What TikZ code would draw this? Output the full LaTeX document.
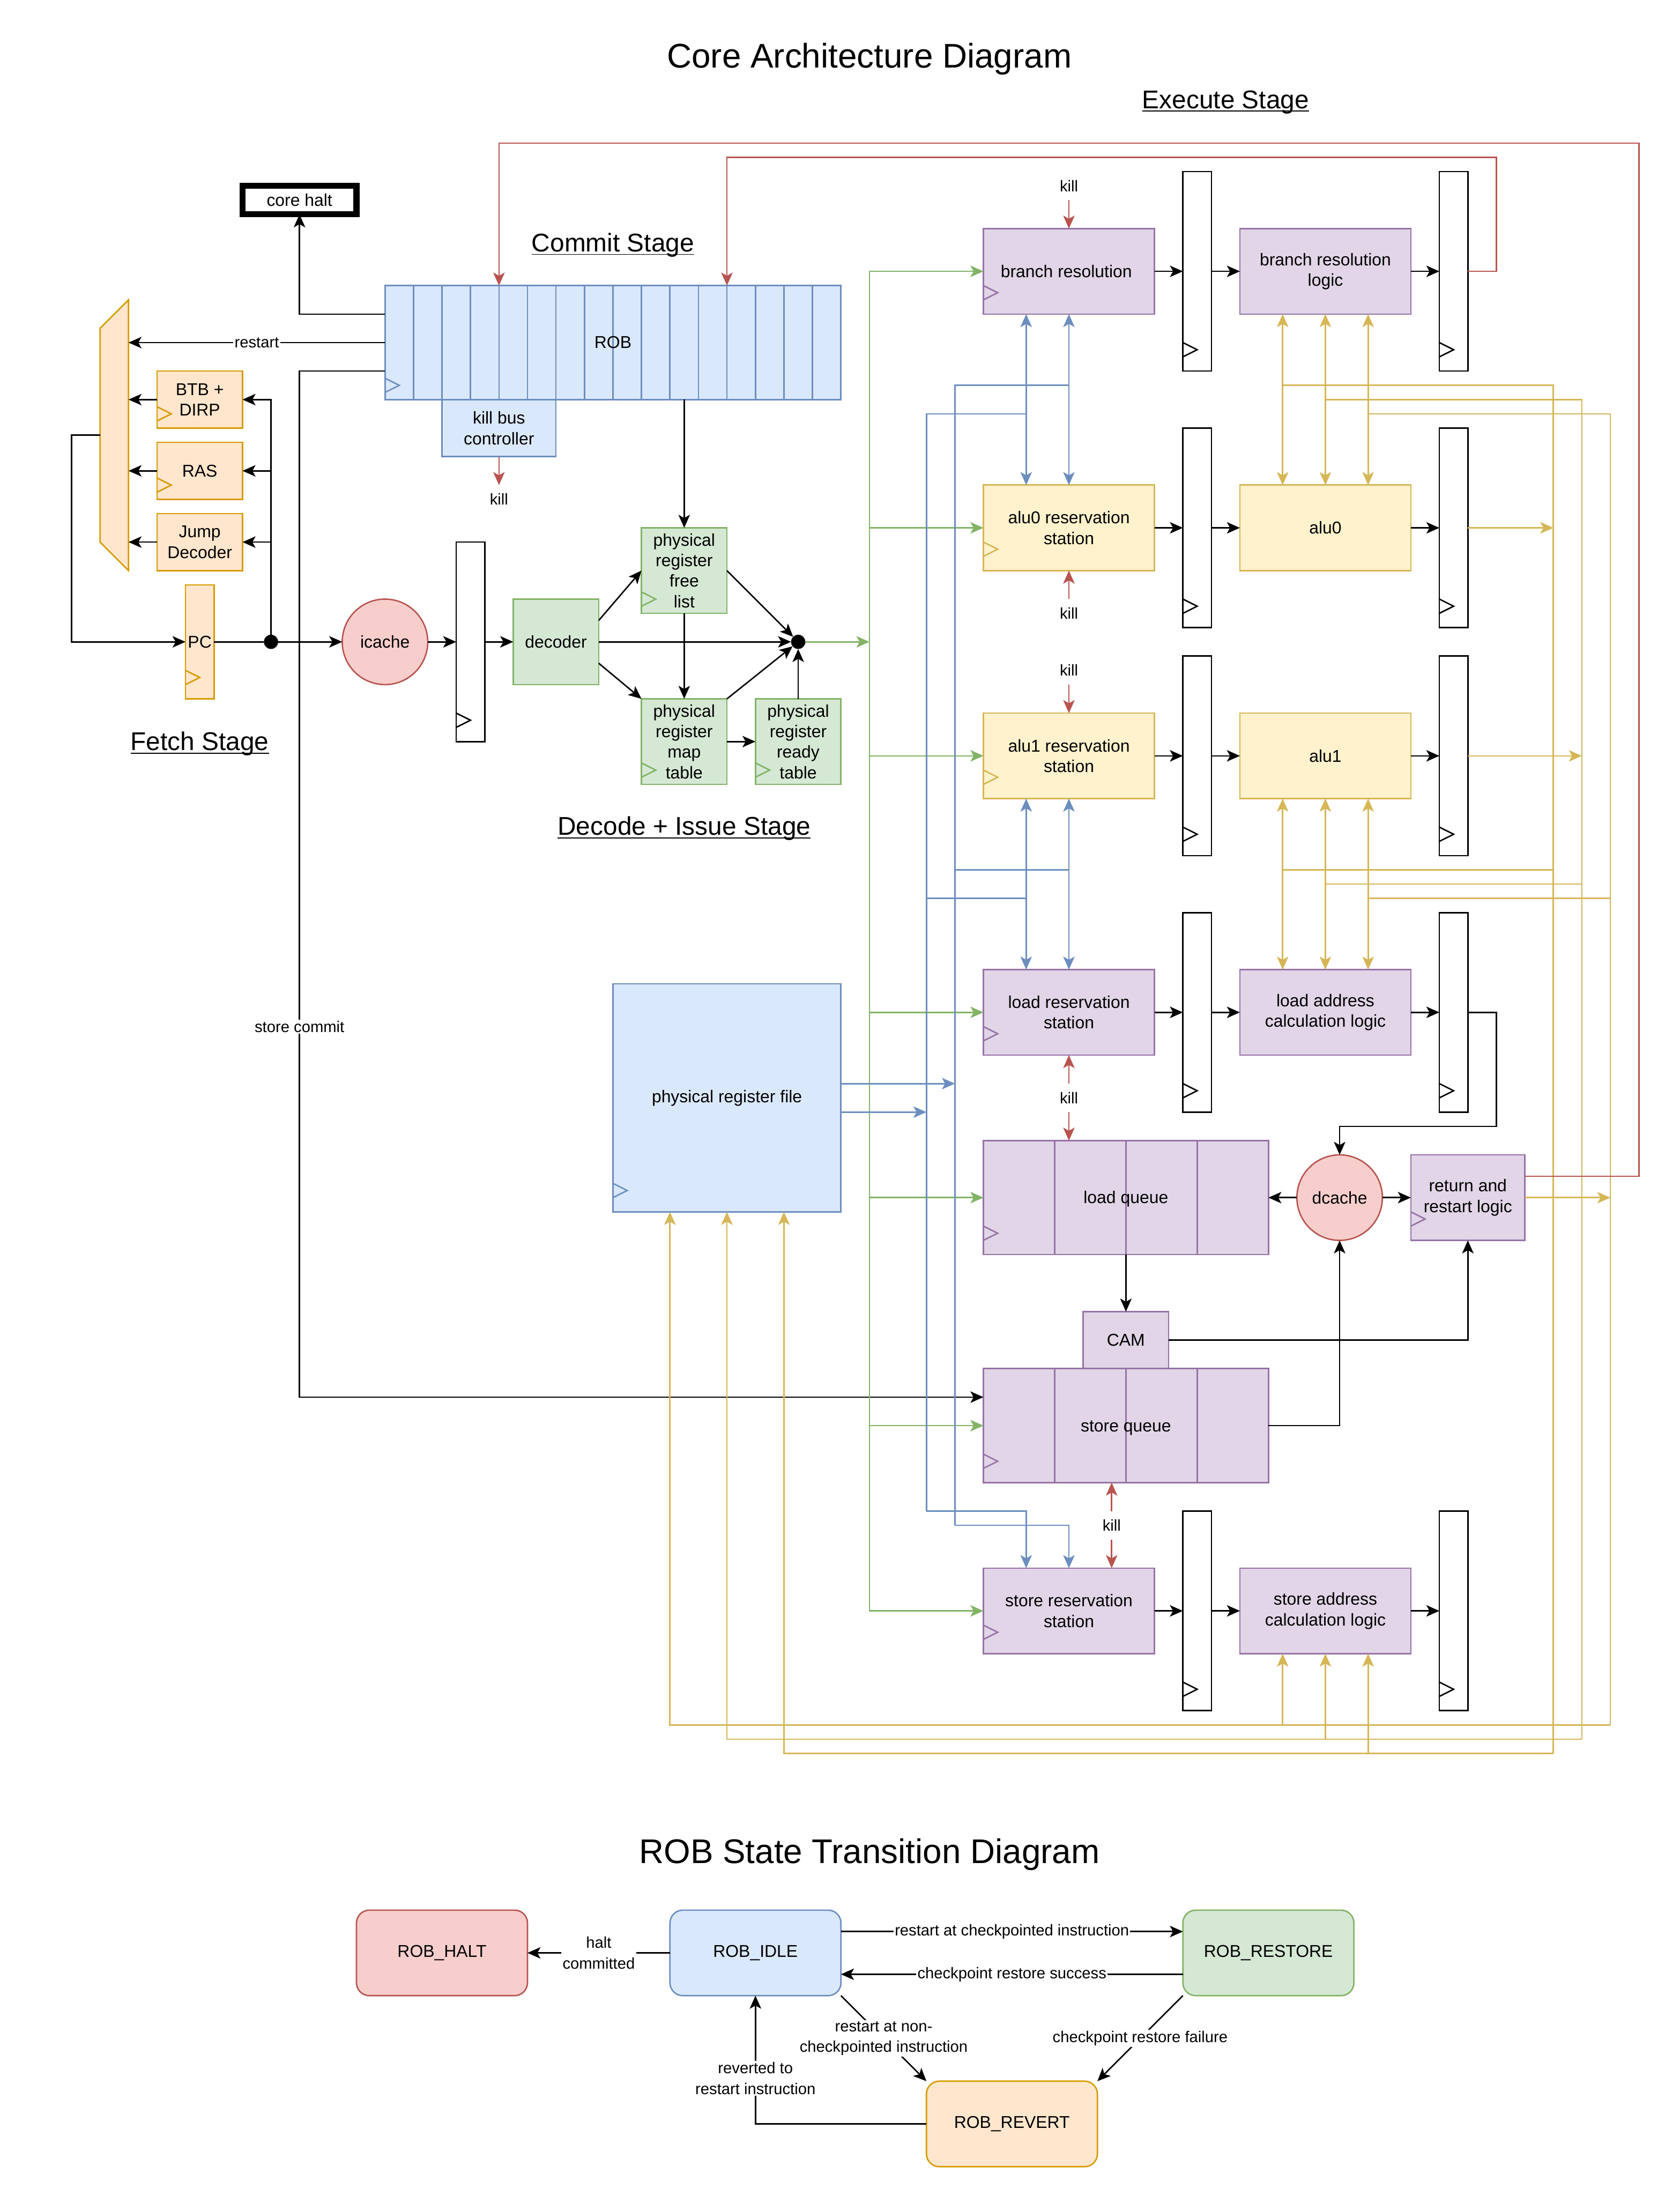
\documentclass[tikz,border=0pt]{standalone}
\usepackage{fontspec}
\setmainfont{Liberation Sans}
\usetikzlibrary{arrows.meta}
\definecolor{lblue}{HTML}{DAE8FC}
\definecolor{dblue}{HTML}{6C8EBF}
\definecolor{lgreen}{HTML}{D5E8D4}
\definecolor{dgreen}{HTML}{82B366}
\definecolor{lorange}{HTML}{FFE6CC}
\definecolor{dorange}{HTML}{D79B00}
\definecolor{lyellow}{HTML}{FFF2CC}
\definecolor{dyellow}{HTML}{D6B656}
\definecolor{lred}{HTML}{F8CECC}
\definecolor{dred}{HTML}{B85450}
\definecolor{lpurple}{HTML}{E1D5E7}
\definecolor{dpurple}{HTML}{9673A6}
\begin{document}
\begin{tikzpicture}[xscale=0.5,yscale=-0.5,line width=.71pt,
  >={Stealth[length=6.5pt,width=5.7pt,inset=1.6pt]},
  every node/.style={font=\fontsize{8.54}{10.25}\selectfont,inner sep=0,outer sep=0,align=center},
  bluebox/.style={draw=dblue,fill=lblue},
  greenbox/.style={draw=dgreen,fill=lgreen},
  orangebox/.style={draw=dorange,fill=lorange},
  yellowbox/.style={draw=dyellow,fill=lyellow},
  redbox/.style={draw=dred,fill=lred},
  purplebox/.style={draw=dpurple,fill=lpurple},
  rsbox/.style={minimum width=3cm,minimum height=1.5cm},
  tablebox/.style={minimum width=1.5cm,minimum height=1.5cm},
  predbox/.style={orangebox,minimum width=1.5cm,minimum height=1cm},
  pipe/.style={draw=black,fill=white,minimum width=.5cm,minimum height=3.5cm},
  statebox/.style={rounded corners=6.4pt,minimum width=3cm,minimum height=1.5cm},
  lab/.style={font=\fontsize{7.82}{10.25}\selectfont,fill=white,inner sep=.6pt},
  killlab/.style={lab,minimum height=.5cm,inner sep=0},
  bigtitle/.style={font=\fontsize{17.07}{20}\selectfont},
  stagetitle/.style={font=\fontsize{12.8}{15}\selectfont},
  jdot/.style={circle,fill=black,minimum size=.25cm},
  bluel/.style={draw=dblue},
  greenl/.style={draw=dgreen},
  yellowl/.style={draw=dyellow},
  redl/.style={draw=dred}]
\useasboundingbox (-13.51,-10.02) rectangle (45.44,67.03);

\node [bigtitle] (title) at (17,-7.95) {Core Architecture Diagram};
\node [stagetitle] (execst) at (29.5,-6.15) {\underline{\smash{Execute Stage}}};
\node [stagetitle] (commitst) at (8,-1.12) {\underline{\smash{Commit Stage}}};
\node [stagetitle] (fetchst) at (-6.5,16.38) {\underline{\smash{Fetch Stage}}};
\node [stagetitle] (decodest) at (10.5,19.35) {\underline{\smash{Decode + Issue Stage}}};
\node [bigtitle] (robtitle) at (17,55.05) {ROB State Transition Diagram};

\node [draw=black,line width=3pt,minimum width=2cm,minimum height=.5cm] (halt) at (-3,-3) {core halt};
\node [bluebox,minimum width=8cm,minimum height=2cm] (rob) at (8,2) {};
\draw [dblue] (1,0) -- (1,4);
\draw [dblue] (2,0) -- (2,4);
\draw [dblue] (3,0) -- (3,4);
\draw [dblue] (4,0) -- (4,4);
\draw [dblue] (5,0) -- (5,4);
\draw [dblue] (6,0) -- (6,4);
\draw [dblue] (7,0) -- (7,4);
\draw [dblue] (8,0) -- (8,4);
\draw [dblue] (9,0) -- (9,4);
\draw [dblue] (10,0) -- (10,4);
\draw [dblue] (11,0) -- (11,4);
\draw [dblue] (12,0) -- (12,4);
\draw [dblue] (13,0) -- (13,4);
\draw [dblue] (14,0) -- (14,4);
\draw [dblue] (15,0) -- (15,4);
\node (roblab) at (8,2) {ROB};
\node [bluebox,minimum width=2cm,minimum height=1cm] (kbc) at (4,5) {kill bus\\controller};

\draw [dorange,fill=lorange] (-9,.5) -- (-9,10) -- (-10,9) -- (-10,1.5) -- cycle;
\coordinate (muxr) at (-9,2);
\coordinate (muxb) at (-9,4);
\coordinate (muxs) at (-9,6.5);
\coordinate (muxj) at (-9,9);
\coordinate (muxo) at (-10,5.25);
\coordinate (fbk) at (-11,5.25);
\node [predbox] (btb) at (-6.5,4) {BTB +\\DIRP};
\node [predbox] (ras) at (-6.5,6.5) {RAS};
\node [predbox] (jmp) at (-6.5,9) {Jump\\Decoder};
\node [orangebox,minimum width=.5cm,minimum height=2cm] (pc) at (-6.5,12.5) {PC};
\node [jdot] (dotf) at (-4,12.5) {};
\node [redbox,circle,minimum size=1.5cm] (icache) at (0,12.5) {icache};
\node [pipe] (reg0) at (3,12.5) {};
\node [greenbox,tablebox] (dec) at (6,12.5) {decoder};
\node [greenbox,tablebox] (free) at (10.5,10) {physical\\register\\free\\list};
\node [greenbox,tablebox] (map) at (10.5,16) {physical\\register\\map\\table};
\node [greenbox,tablebox] (ready) at (14.5,16) {physical\\register\\ready\\table};
\node [jdot] (dotd) at (14.5,12.5) {};
\node [bluebox,minimum width=4cm,minimum height=4cm] (prf) at (12,28.5) {physical register file};

\node [purplebox,rsbox] (rsb) at (24,-.5) {branch resolution\hspace{.3em}};
\node [yellowbox,rsbox] (rsa) at (24,8.5) {alu0 reservation\\station};
\node [yellowbox,rsbox] (rsc) at (24,16.5) {alu1 reservation\\station};
\node [purplebox,rsbox] (rsl) at (24,25.5) {load reservation\\station};
\node [purplebox,rsbox] (rss) at (24,46.5) {store reservation\\station};
\node [purplebox,rsbox] (lgb) at (33,-.5) {branch resolution\\logic};
\node [yellowbox,rsbox] (lga) at (33,8.5) {alu0};
\node [yellowbox,rsbox] (lgc) at (33,16.5) {alu1};
\node [purplebox,rsbox] (lgl) at (33,25.5) {load address\\calculation logic};
\node [purplebox,rsbox] (lgs) at (33,46.5) {store address\\calculation logic};
\node [pipe] (pab) at (28.5,-.5) {};
\node [pipe] (paa) at (28.5,8.5) {};
\node [pipe] (pac) at (28.5,16.5) {};
\node [pipe] (pal) at (28.5,25.5) {};
\node [pipe] (pas) at (28.5,46.5) {};
\node [pipe] (pbb) at (37.5,-.5) {};
\node [pipe] (pba) at (37.5,8.5) {};
\node [pipe] (pbc) at (37.5,16.5) {};
\node [pipe] (pbl) at (37.5,25.5) {};
\node [pipe] (pbs) at (37.5,46.5) {};

\node [purplebox,minimum width=5cm,minimum height=2cm] (lq) at (26,32) {};
\draw [dpurple] (23.5,30) -- (23.5,34);
\draw [dpurple] (26,30) -- (26,34);
\draw [dpurple] (28.5,30) -- (28.5,34);
\node (lqlab) at (26,32.05) {load queue};
\node [purplebox,minimum width=5cm,minimum height=2cm] (sq) at (26,40) {};
\draw [dpurple] (23.5,38) -- (23.5,42);
\draw [dpurple] (26,38) -- (26,42);
\draw [dpurple] (28.5,38) -- (28.5,42);
\node (sqlab) at (26,40.08) {store queue};
\node [purplebox,minimum width=1.5cm,minimum height=1cm] (cam) at (26,37) {CAM};
\node [redbox,circle,minimum size=1.5cm] (dcache) at (33.5,32) {dcache};
\node [purplebox,minimum width=2cm,minimum height=1.5cm] (rr) at (38,32) {return and\\restart logic};

\draw [dpurple] (21,0) -- (21.5,.25) -- (21,.5);
\draw [dyellow] (21,9) -- (21.5,9.25) -- (21,9.5);
\draw [dyellow] (21,17) -- (21.5,17.25) -- (21,17.5);
\draw [dpurple] (21,26) -- (21.5,26.25) -- (21,26.5);
\draw [dpurple] (21,47) -- (21.5,47.25) -- (21,47.5);
\draw [dpurple] (21,33) -- (21.5,33.25) -- (21,33.5);
\draw [dpurple] (21,41) -- (21.5,41.25) -- (21,41.5);
\draw [dpurple] (36,32.5) -- (36.5,32.75) -- (36,33);
\draw (28,2) -- (28.5,2.25) -- (28,2.5);
\draw (28,11) -- (28.5,11.25) -- (28,11.5);
\draw (28,19) -- (28.5,19.25) -- (28,19.5);
\draw (28,28) -- (28.5,28.25) -- (28,28.5);
\draw (28,49) -- (28.5,49.25) -- (28,49.5);
\draw (37,2) -- (37.5,2.25) -- (37,2.5);
\draw (37,11) -- (37.5,11.25) -- (37,11.5);
\draw (37,19) -- (37.5,19.25) -- (37,19.5);
\draw (37,28) -- (37.5,28.25) -- (37,28.5);
\draw (37,49) -- (37.5,49.25) -- (37,49.5);
\draw (2.5,15) -- (3,15.25) -- (2.5,15.5);
\draw [dblue] (0,3.25) -- (.5,3.5) -- (0,3.75);
\draw [dblue] (8,31.5) -- (8.5,31.75) -- (8,32);
\draw [dorange] (-8,4.25) -- (-7.5,4.5) -- (-8,4.75);
\draw [dorange] (-8,6.75) -- (-7.5,7) -- (-8,7.25);
\draw [dorange] (-7,13.5) -- (-6.5,13.75) -- (-7,14);
\draw [dgreen] (9,10.75) -- (9.5,11) -- (9,11.25);
\draw [dgreen] (9,16.75) -- (9.5,17) -- (9,17.25);
\draw [dgreen] (13,16.75) -- (13.5,17) -- (13,17.25);

\draw [->] (rob.west |- 0,1) -| (halt.south);
\draw [->] (rob.west) -- node [lab] (lbrestart) {restart} (muxr);
\coordinate (cmt) at (-3,39);
\draw [->] (rob.west |- 0,3) -| (cmt) -- (sq.west |- cmt);
\node [lab] (lbcommit) at (-3,26) {store commit};
\draw [->] (btb.west) -- (muxb);
\draw [->] (ras.west) -- (muxs);
\draw [->] (jmp.west) -- (muxj);
\draw [->] (muxo) -- (fbk) |- (pc.west);
\draw (pc.east) -- (dotf);
\draw [->] (dotf) |- (btb.east);
\draw [->] (dotf) |- (ras.east);
\draw [->] (dotf) |- (jmp.east);
\draw [->] (dotf) -- (icache);
\draw [->] (icache) -- (reg0);
\draw [->] (reg0) -- (dec);
\draw [->] (dec.east) -- (dotd);
\draw [->] (dec.east |- 0,11.75) -- (free.west);
\draw [->] (dec.east |- 0,13.25) -- (map.north west);
\draw [->] (rob.south -| free.north) -- (free.north);
\draw [->] (free.south) -- (map.north);
\draw [->] (map.east) -- (ready.west);
\draw [->] (free.east) -- (dotd);
\draw [->] (map.north east) -- (dotd);
\draw [->] (ready.north) -- (dotd);
\draw [redl,->] (kbc.south) -- (4,7);
\node [lab] (lbk0) at (4,7.5) {kill};

\coordinate (gtop) at (17,-.5);
\coordinate (gbot) at (17,46.5);
\draw [greenl] (gtop) -- (gbot);
\draw [greenl,->] (dotd) -- (gtop |- dotd);
\draw [greenl,->] (gtop) -- (rsb.west);
\draw [greenl,->] (gtop |- rsa.west) -- (rsa.west);
\draw [greenl,->] (gtop |- rsc.west) -- (rsc.west);
\draw [greenl,->] (gtop |- rsl.west) -- (rsl.west);
\draw [greenl,->] (gtop |- lq.west) -- (lq.west);
\draw [greenl,->] (gtop |- sq.west) -- (sq.west);
\draw [greenl,->] (gbot) -- (rss.west);

\draw [->] (rsb) -- (pab);
\draw [->] (pab) -- (lgb);
\draw [->] (lgb) -- (pbb);
\draw [->] (rsa) -- (paa);
\draw [->] (paa) -- (lga);
\draw [->] (lga) -- (pba);
\draw [->] (rsc) -- (pac);
\draw [->] (pac) -- (lgc);
\draw [->] (lgc) -- (pbc);
\draw [->] (rsl) -- (pal);
\draw [->] (pal) -- (lgl);
\draw [->] (lgl) -- (pbl);
\draw [->] (rss) -- (pas);
\draw [->] (pas) -- (lgs);
\draw [->] (lgs) -- (pbs);

\node [killlab] (lbk1) at (24,-3.5) {kill};
\node [killlab] (lbk2) at (24,11.5) {kill};
\node [killlab] (lbk3) at (24,13.5) {kill};
\node [killlab] (lbk4) at (24,28.5) {kill};
\node [killlab] (lbk5) at (25.5,43.5) {kill};
\draw [redl,->] (lbk1) -- (rsb.north);
\draw [redl,->] (lbk2) -- (rsa.south);
\draw [redl,->] (lbk3) -- (rsc.north);
\draw [redl,->] (lbk4) -- (rsl.south);
\draw [redl,->] (lbk4) -- (lq.north -| lbk4);
\draw [redl,->] (lbk5) -- (sq.south -| lbk5);
\draw [redl,->] (lbk5) -- (rss.north -| lbk5);

\coordinate (ba) at (20,3.5);
\coordinate (bb) at (20,20.5);
\coordinate (bc) at (20,28);
\coordinate (bd) at (20,43.5);
\coordinate (ca) at (19,4.5);
\coordinate (cb) at (19,21.5);
\coordinate (cc) at (19,29);
\coordinate (cd) at (19,43);
\draw [bluel,->] (prf.east |- bc) -- (bc);
\draw [bluel,->] (prf.east |- cc) -- (cc);
\draw [bluel] (rsb.south |- ba) -- (ba) -- (bd);
\draw [bluel,->] (bd) -| (rss.north);
\draw [bluel] (rsc.south |- bb) -- (bb);
\draw [bluel] (22.5,4.5) -- (ca) -- (cd);
\draw [bluel,->] (cd) -| (rss.north -| 22.5,0);
\draw [bluel] (22.5,21.5) -- (cb);
\draw [bluel,<->] (rsb.south) -- (rsa.north);
\draw [bluel,<->] (rsb.south -| 22.5,0) -- (rsa.north -| 22.5,0);
\draw [bluel,<->] (rsc.south) -- (rsl.north);
\draw [bluel,<->] (rsc.south -| 22.5,0) -- (rsl.north -| 22.5,0);

\coordinate (ya) at (41,3.5);
\coordinate (yb) at (42,4);
\coordinate (yc) at (43,4.5);
\coordinate (ye) at (41,51.5);
\coordinate (yf) at (42,51);
\coordinate (yg) at (43,50.5);
\draw [yellowl,<->] (lgb.south -| 31.5,0) -- (lga.north -| 31.5,0);
\draw [yellowl,<->] (lgb.south) -- (lga.north);
\draw [yellowl,<->] (lgb.south -| 34.5,0) -- (lga.north -| 34.5,0);
\draw [yellowl,<->] (lgc.south -| 31.5,0) -- (lgl.north -| 31.5,0);
\draw [yellowl,<->] (lgc.south) -- (lgl.north);
\draw [yellowl,<->] (lgc.south -| 34.5,0) -- (lgl.north -| 34.5,0);
\draw [yellowl] (31.5,3.5) -- (ya) -- (ye);
\draw [yellowl] (33,4) -- (yb) -- (yf);
\draw [yellowl] (34.5,4.5) -- (yc) -- (yg);
\draw [yellowl] (31.5,20.5) -- (41,20.5);
\draw [yellowl] (33,21) -- (42,21);
\draw [yellowl] (34.5,21.5) -- (43,21.5);
\draw [yellowl,->] (ye) -| (prf.south -| 14,0);
\draw [yellowl,->] (yf) -| (prf.south -| 12,0);
\draw [yellowl,->] (yg) -| (prf.south -| 10,0);
\draw [yellowl,->] (31.5,50.5) -- (lgs.south -| 31.5,0);
\draw [yellowl,->] (33,51) -- (lgs.south);
\draw [yellowl,->] (34.5,51.5) -- (lgs.south -| 34.5,0);
\draw [yellowl,->] (pba.east) -- (ya |- pba.east);
\draw [yellowl,->] (pbc.east) -- (yb |- pbc.east);
\draw [yellowl,->] (rr.east) -- (yc |- rr.east);

\coordinate (ra) at (44,-5);
\coordinate (rb) at (4,-5);
\coordinate (rc) at (39,-4.5);
\coordinate (rd) at (12,-4.5);
\draw [redl,->] (rr.east |- 0,31.25) -| (ra) -- (rb) -- (rob.north -| rb);
\draw [redl,->] (pbb.east) -| (rc) -- (rd) -- (rob.north -| rd);

\coordinate (la) at (39,29.5);
\draw [->] (pbl.east) -| (la) -| (dcache.north);
\draw [->] (dcache) -- (lq);
\draw [->] (dcache) -- (rr);
\draw [->] (lq.south) -- (cam.north);
\draw [->] (cam.east) -| (rr.south);
\draw [->] (sq.east) -| (dcache.south);

\node [redbox,statebox] (shalt) at (2,58.5) {ROB\_HALT};
\node [bluebox,statebox] (sidle) at (13,58.5) {ROB\_IDLE};
\node [greenbox,statebox] (srest) at (31,58.5) {ROB\_RESTORE};
\node [orangebox,statebox] (srev) at (22,64.5) {ROB\_REVERT};
\draw [->] (sidle) -- node [lab] (lbh) {halt\\committed} (shalt);
\draw [->] (sidle.east |- 0,57.75) -- node [lab] (lbr1) {restart at checkpointed instruction} (srest.west |- 0,57.75);
\draw [->] (srest.west |- 0,59.25) -- node [lab] (lbr2) {checkpoint restore success} (sidle.east |- 0,59.25);
\draw [->] (sidle.south east) -- node [lab] (lbr3) {restart at non-\\checkpointed instruction} (srev.north west);
\draw [->] (srest.south west) -- node [lab] (lbr4) {checkpoint restore failure} (srev.north east);
\draw [->] (srev.west) -| (sidle.south);
\node [lab] (lbr5) at (13,62.9) {reverted to\\restart instruction};
\end{tikzpicture}
\end{document}
